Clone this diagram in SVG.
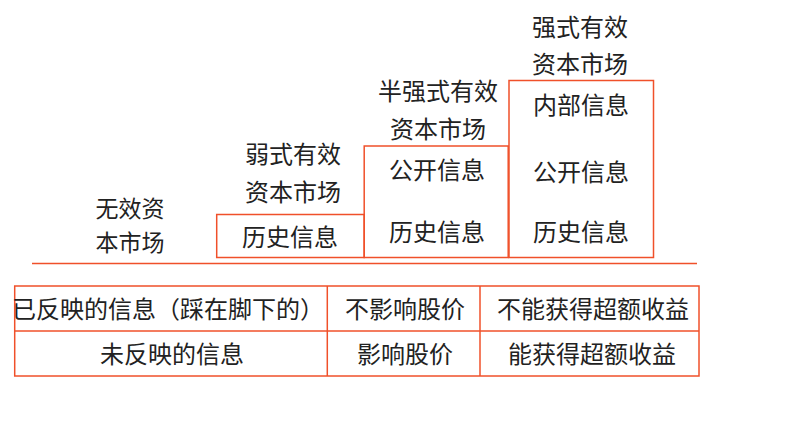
<svg xmlns="http://www.w3.org/2000/svg" width="800" height="423" viewBox="0 0 800 423">
<style>
.t{font-family:"Noto Sans CJK SC","Liberation Sans",sans-serif;font-size:24px;fill:#222;text-anchor:middle}
.s{font-size:23px}
.b{fill:none;stroke:#F0502A;stroke-width:1.5}
</style>
<rect width="800" height="423" fill="#fff"/>
<g id="none">
<text class="t s" x="130" y="217">无效资</text>
<text class="t s" x="130" y="251">本市场</text>
</g>
<g id="weak">
<text class="t" x="293" y="163">弱式有效</text>
<text class="t" x="293" y="201">资本市场</text>
<rect class="b" x="216.7" y="214.5" width="147.5" height="43"/>
<text class="t" x="290" y="246">历史信息</text>
</g>
<g id="semi">
<text class="t" x="438" y="100">半强式有效</text>
<text class="t" x="438" y="138">资本市场</text>
<rect class="b" x="364.2" y="146" width="144" height="111.5"/>
<text class="t" x="437" y="179">公开信息</text>
<text class="t" x="437" y="241">历史信息</text>
</g>
<g id="strong">
<text class="t" x="580" y="36">强式有效</text>
<text class="t" x="580" y="73">资本市场</text>
<rect class="b" x="509" y="80.5" width="144.5" height="177"/>
<text class="t" x="581" y="114">内部信息</text>
<text class="t" x="581" y="181">公开信息</text>
<text class="t" x="581" y="241">历史信息</text>
</g>
<g id="connectors">
<line class="b" x1="32" y1="263.5" x2="697" y2="263.5"/>
</g>
<g id="table">
<rect class="b" x="14.7" y="286" width="684.3" height="90"/>
<line class="b" x1="14.7" y1="331" x2="699" y2="331"/>
<line class="b" x1="327.3" y1="286" x2="327.3" y2="376"/>
<line class="b" x1="480" y1="286" x2="480" y2="376"/>
<text class="t" x="168" y="318">已反映的信息（踩在脚下的）</text>
<text class="t" x="172" y="363">未反映的信息</text>
<text class="t" x="405" y="318">不影响股价</text>
<text class="t" x="405" y="363">影响股价</text>
<text class="t" x="593" y="318">不能获得超额收益</text>
<text class="t" x="592" y="363">能获得超额收益</text>
</g>
</svg>
